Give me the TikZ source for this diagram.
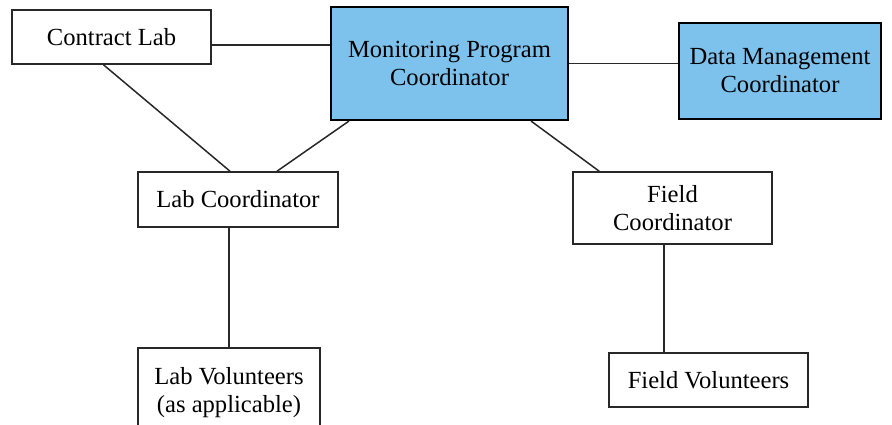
\documentclass[tikz,border=0pt]{standalone}
\usepackage{fontspec}
\newfontfamily\orgfont{Liberation Serif}
\usepackage{xcolor}
\usepackage{tikz}
\usetikzlibrary{positioning,calc}
\definecolor{leadblue}{RGB}{124, 194, 236}
\definecolor{lineink}{RGB}{40, 40, 40}
\tikzset{
  orgbox/.style={
    draw=lineink,
    line width=0.8pt,
    fill=white,
    align=center,
    inner sep=0pt,
    font=\orgfont\fontsize{12.3}{14}\selectfont
  },
  leadbox/.style={
    orgbox,
    draw=black,
    line width=1.1pt,
    fill=leadblue
  },
  orgline/.style={
    draw=lineink,
    line width=0.75pt
  }
}

\begin{document}
\begin{tikzpicture}[x=0.5pt,y=-0.5pt]
  \useasboundingbox (0,0) rectangle (892,424);
  % top row
  \node[orgbox, minimum width=99.5pt, minimum height=27pt] (cl) at (111.5,37) {Contract Lab};
  \node[leadbox, minimum width=118.5pt, minimum height=56.5pt] (mpc) at (449.5,63.5) {Monitoring Program\\Coordinator};
  \node[leadbox, minimum width=101pt, minimum height=48pt] (dmc) at (780,71) {Data Management\\Coordinator};
  % coordinators
  \node[orgbox, minimum width=100pt, minimum height=27.5pt] (lc) at (238,199.5) {Lab Coordinator};
  \node[orgbox, minimum width=99.5pt, minimum height=36pt] (fc) at (672.5,208) {Field\\Coordinator};
  % volunteers
  \node[orgbox, minimum width=91pt, minimum height=45pt, anchor=north] (lv) at (229,347) {Lab Volunteers\\(as applicable)};
  \node[orgbox, minimum width=99.5pt, minimum height=27pt] (fv) at (708.5,380) {Field Volunteers};

  \draw[orgline] ([yshift=-4pt]cl.east) -- ([yshift=-4pt]cl.east -| mpc.west);
  \draw[orgline] (mpc.east) -- (mpc.east -| dmc.west);
  \draw[orgline] ([xshift=-4pt]cl.south) -- ([xshift=-4pt]lc.north);
  \draw[orgline] ([xshift=9.5pt]mpc.south west) -- ([xshift=19.5pt]lc.north);
  \draw[orgline] ([xshift=-19pt]mpc.south east) -- ([xshift=13.5pt]fc.north west);
  \draw[orgline] (lv.north |- lc.south) -- (lv.north);
  \draw[orgline] ([xshift=-4.25pt]fc.south) -- ([xshift=-4.25pt]fc.south |- fv.north);
\end{tikzpicture}
\end{document}
